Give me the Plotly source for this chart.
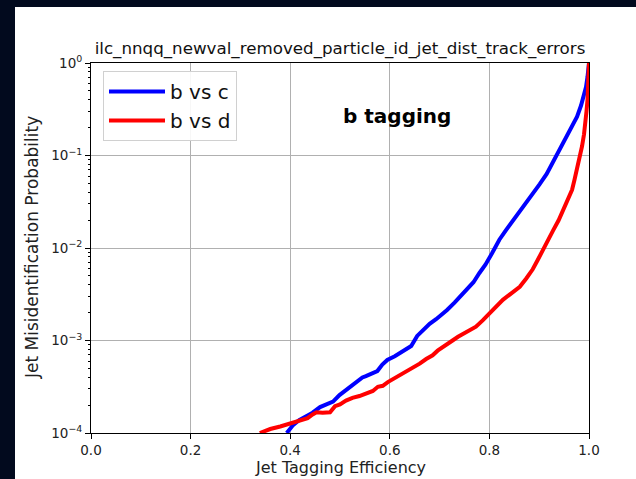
import plotly.graph_objects as go

# ---- data (x: efficiency, y: log10 of misid probability) ----
eff_bc = [0.393, 0.405, 0.418, 0.432, 0.445, 0.460, 0.472, 0.486, 0.499, 0.515,
          0.532, 0.545, 0.552, 0.565, 0.575, 0.585, 0.595, 0.610, 0.620, 0.632,
          0.643, 0.655, 0.668, 0.680, 0.693, 0.705, 0.715, 0.730, 0.742, 0.755,
          0.768, 0.780, 0.792, 0.805, 0.820, 0.833, 0.847, 0.860, 0.873, 0.887,
          0.901, 0.915, 0.925, 0.935, 0.946, 0.956, 0.966, 0.976, 0.984, 0.990,
          0.994, 0.997, 0.999, 1.0]
log_misid_bc = [-4.00, -3.92, -3.86, -3.82, -3.78, -3.72, -3.69, -3.66, -3.59, -3.52,
                -3.45, -3.40, -3.385, -3.36, -3.33, -3.26, -3.21, -3.17, -3.14, -3.10,
                -3.06, -2.95, -2.88, -2.82, -2.77, -2.72, -2.67, -2.59, -2.52, -2.45,
                -2.37, -2.27, -2.18, -2.06, -1.91, -1.81, -1.71, -1.62, -1.52, -1.42,
                -1.31, -1.20, -1.10, -1.01, -0.90, -0.79, -0.68, -0.58, -0.46, -0.36,
                -0.26, -0.15, -0.07, 0.0]

eff_bd = [0.339, 0.350, 0.360, 0.380, 0.400, 0.420, 0.435, 0.445, 0.453, 0.465,
          0.480, 0.490, 0.500, 0.512, 0.525, 0.539, 0.552, 0.566, 0.576, 0.586,
          0.596, 0.606, 0.620, 0.633, 0.646, 0.660, 0.673, 0.686, 0.696, 0.706,
          0.716, 0.726, 0.737, 0.747, 0.760, 0.773, 0.787, 0.800, 0.813, 0.827,
          0.844, 0.861, 0.874, 0.887, 0.897, 0.908, 0.918, 0.928, 0.939, 0.949,
          0.958, 0.966, 0.971, 0.976, 0.981, 0.986, 0.990, 0.993, 0.995, 0.997,
          0.998, 0.999, 1.0]
log_misid_bd = [-4.00, -3.975, -3.957, -3.93, -3.90, -3.866, -3.84, -3.80, -3.776, -3.78,
                -3.776, -3.71, -3.69, -3.65, -3.62, -3.60, -3.57, -3.545, -3.50, -3.49,
                -3.45, -3.42, -3.37, -3.33, -3.30, -3.25, -3.20, -3.16, -3.11, -3.07,
                -3.04, -3.00, -2.96, -2.93, -2.89, -2.85, -2.78, -2.71, -2.64, -2.56,
                -2.49, -2.42, -2.33, -2.23, -2.13, -2.01, -1.91, -1.81, -1.70, -1.58,
                -1.47, -1.37, -1.26, -1.15, -1.03, -0.90, -0.77, -0.65, -0.52, -0.40,
                -0.27, -0.15, 0.0]

series_names = ["b vs c", "b vs d"]
series_colors = ["#0000ff", "#ff0000"]

x_tickvals = [0.0, 0.2, 0.4, 0.6, 0.8, 1.0]
x_ticktext = ["0.0", "0.2", "0.4", "0.6", "0.8", "1.0"]
y_decades = [-4, -3, -2, -1, 0]
y_ticktext = ["10<sup>−4</sup>", "10<sup>−3</sup>", "10<sup>−2</sup>",
              "10<sup>−1</sup>", "10<sup>0</sup>"]
minor_multipliers = [2, 3, 4, 5, 6, 7, 8, 9]

title_text = "ilc_nnqq_newval_removed_particle_id_jet_dist_track_errors"
xlabel = "Jet Tagging Efficiency"
ylabel = "Jet Misidentification Probability"
panel_text = "b tagging"

# ---- figure ----
W, H = 636, 479
L, R, T, B = 91, 47, 63, 46
pw, ph = W - L - R, H - T - B
FONT = "DejaVu Sans"

def px_x(px):
    return (px - L) / pw

def px_y(py):
    return (H - B - py) / ph

fig = go.Figure()
for xs, ls, name, col in [(eff_bc, log_misid_bc, series_names[0], series_colors[0]),
                          (eff_bd, log_misid_bd, series_names[1], series_colors[1])]:
    fig.add_trace(go.Scatter(x=xs, y=[10 ** v for v in ls], mode="lines", name=name,
                             line=dict(color=col, width=4)))

axis_common = dict(showline=True, linecolor="black", linewidth=1, mirror=True,
                   ticks="outside", ticklen=5, tickwidth=1, tickcolor="black",
                   showgrid=True, gridcolor="#b0b0b0", gridwidth=0.8,
                   zeroline=False, tickfont=dict(family=FONT, size=13.5, color="#222"))

y_tickvals = [10.0 ** d for d in y_decades]
y_minor_vals = [m * 10.0 ** d for d in y_decades[:-1] for m in minor_multipliers]

fig.update_layout(
    width=W, height=H,
    margin=dict(l=L, r=R, t=T, b=B, pad=0),
    paper_bgcolor="#020a1e",
    plot_bgcolor="white",
    showlegend=True,
    legend=dict(x=px_x(103), y=px_y(71), xanchor="left", yanchor="top",
                bgcolor="rgba(255,255,255,0.9)", bordercolor="#d0d0d0", borderwidth=1,
                font=dict(family=FONT, size=20, color="#111"),
                tracegroupgap=0, itemwidth=56),
    xaxis=dict(range=[0, 1], tickmode="array", tickvals=x_tickvals, ticktext=x_ticktext,
               **axis_common),
    yaxis=dict(type="log", range=[-4, 0], tickmode="array", tickvals=y_tickvals,
               ticktext=y_ticktext,
               minor=dict(ticks="outside", ticklen=2.5, tickwidth=0.8, tickcolor="black",
                          tickmode="array", tickvals=y_minor_vals, showgrid=False),
               **axis_common),
    title=dict(text=title_text, x=0.5, xref="paper", xanchor="center",
               y=1 - 48 / H, yref="container", yanchor="middle",
               font=dict(family=FONT, size=16.7, color="#111")),
    shapes=[dict(type="rect", xref="paper", yref="paper", layer="below",
                 x0=px_x(15), x1=px_x(W + 2), y0=px_y(H + 2), y1=px_y(7),
                 fillcolor="white", line=dict(width=0))],
    annotations=[
        dict(text="<b>" + panel_text + "</b>", xref="paper", yref="paper",
             x=px_x(397), y=px_y(116), showarrow=False, xanchor="center", yanchor="middle",
             font=dict(family=FONT, size=20, color="black")),
        dict(text=xlabel, xref="paper", yref="paper", x=0.5, y=px_y(468),
             showarrow=False, xanchor="center", yanchor="middle",
             font=dict(family=FONT, size=16, color="#222")),
        dict(text=ylabel, xref="paper", yref="paper", x=px_x(32), y=0.5, textangle=-90,
             showarrow=False, xanchor="center", yanchor="middle",
             font=dict(family=FONT, size=17, color="#222")),
    ],
)

fig.write_html("out.html")
